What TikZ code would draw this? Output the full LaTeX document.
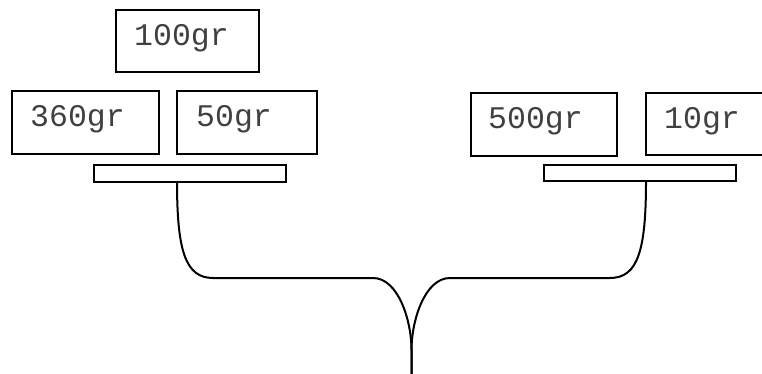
\documentclass[tikz,border=0pt]{standalone}
\usepackage{fontspec}
\setmonofont{Liberation Mono}
\begin{document}
\begin{tikzpicture}[x=1pt,y=-1pt,
  weight/.style={draw,line width=2pt,anchor=north west,inner sep=0pt},
  wlabel/.style={anchor=base west,inner sep=0pt,text=black!75,font=\ttfamily\fontsize{31.5}{31.5}\selectfont},
  plate/.style={draw,line width=2pt,anchor=north west,inner sep=0pt},
  beam/.style={line width=2pt}]
\useasboundingbox (0,0) rectangle (762,374);
\clip (0,0) rectangle (762,374);
% weights
\node[weight,minimum width=143pt,minimum height=62pt] (b100) at (115,9) {};
\node[weight,minimum width=147pt,minimum height=63pt] (b360) at (11,90) {};
\node[weight,minimum width=140pt,minimum height=63pt] (b50) at (176,90) {};
\node[weight,minimum width=146pt,minimum height=63pt] (b500) at (470,92) {};
\node[weight,minimum width=140pt,minimum height=62pt] (b10) at (645,92) {};
\node[wlabel] (t100) at (134,46) {100gr};
\node[wlabel] (t360) at (30,127) {360gr};
\node[wlabel] (t50) at (196,127) {50gr};
\node[wlabel] (t500) at (488,129) {500gr};
\node[wlabel] (t10) at (664,129) {10gr};
% plates
\node[plate,minimum width=192pt,minimum height=17pt] (pl) at (93,164) {};
\node[plate,minimum width=192pt,minimum height=16pt] (pr) at (543,164) {};
\coordinate (lstart) at (177,181);
\coordinate (rstart) at (646,181);
\coordinate (tip) at (411.5,374);
% brace
\draw[beam] (lstart) .. controls (177,250) and (185,278) .. (213,278)
  -- (373,278) .. controls (398,278) and (411.5,320) .. (411.5,350) -- (tip);
\draw[beam] (rstart) .. controls (646,250) and (638,278) .. (610,278)
  -- (450,278) .. controls (425,278) and (411.5,320) .. (411.5,350) -- (tip);
\end{tikzpicture}
\end{document}
